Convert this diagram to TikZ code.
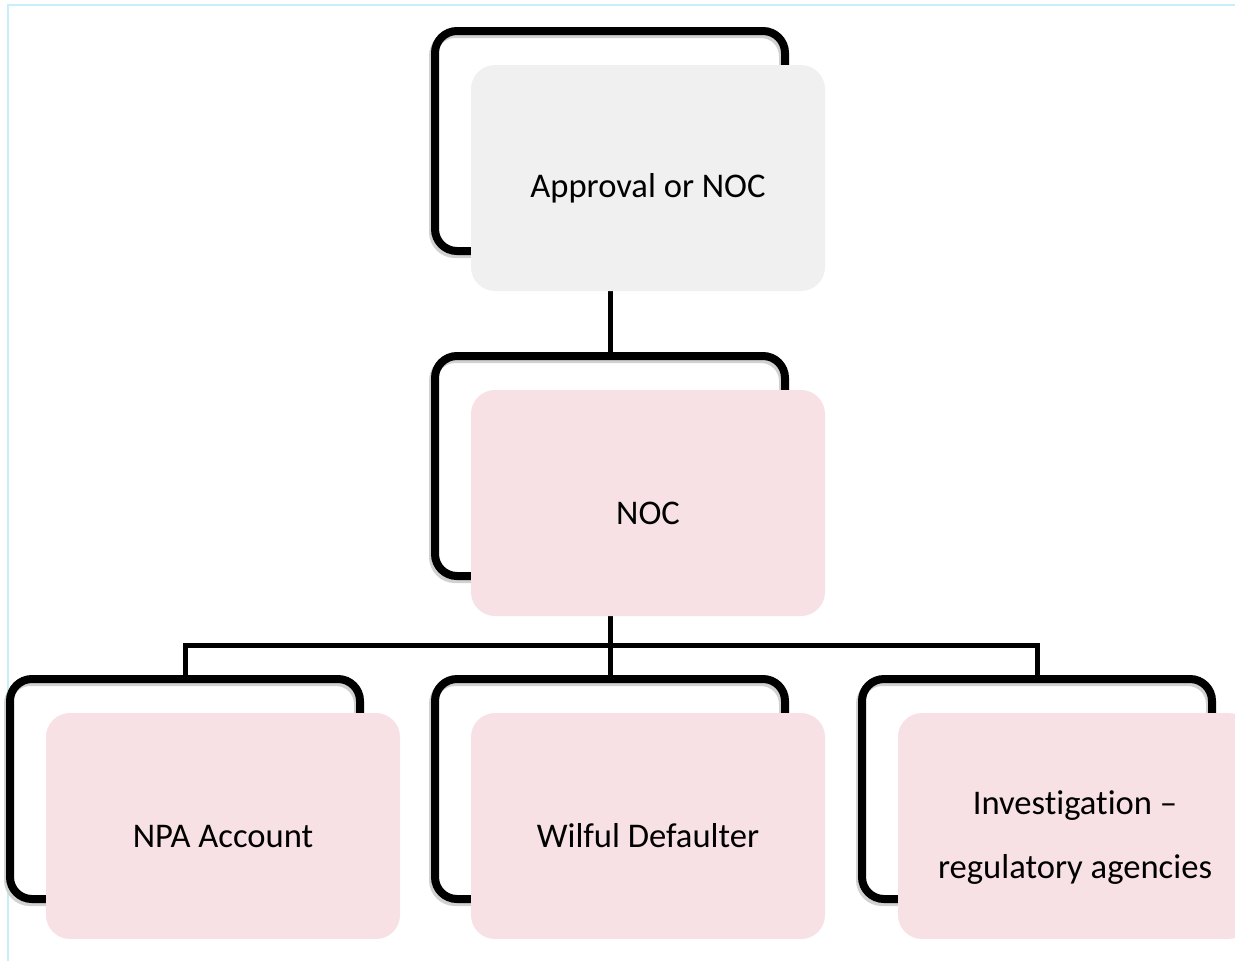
\documentclass[tikz,border=0pt]{standalone}
\usepackage{fontspec}
\setmainfont{Carlito}[Ligatures={TeX,NoCommon}]
\usetikzlibrary{calc}
\definecolor{boxgray}{RGB}{240,240,240}
\definecolor{boxpink}{RGB}{248,225,229}
\definecolor{pagecyan}{RGB}{200,238,250}

\begin{document}
\begin{tikzpicture}[x=0.5pt, y=-0.5pt,
  backframe/.style={draw=black, line width=4pt, rounded corners=11pt,
    minimum width=175pt, minimum height=110pt, outer sep=0pt,
    preaction={draw=black!18, transform canvas={shift={(-1pt,-1.5pt)}}}},
  card/.style={rounded corners=12pt, minimum width=177pt, minimum height=113pt,
    align=center, font=\fontsize{17.3}{32}\selectfont,
    execute at begin node={\rule{0pt}{22pt}}},
  link/.style={black, line width=2.5pt}]
\clip (0,0) rectangle (1235,960);
\draw[pagecyan, line width=1pt] (8,970) -- (8,5) -- (1240,5);

% frames behind the cards
\node[backframe] (fappr) at (610,141) {};
\node[backframe] (fnoc) at (610,466) {};
\foreach \n/\x in {npa/185, wil/610, inv/1037}
  \node[backframe] (f\n) at (\x,789) {};

% links
\draw[link] (fappr.south) -- (fnoc.north);
\draw[link] (fnoc.south) -- (fwil.north);
\draw[link] (fnpa.north) -- ++(0,-34) -| (finv.north);

% cards
\node[card, fill=boxgray] (appr) at ($(fappr)+(38,37)$) {Approval or NOC};
\node[card, fill=boxpink] (noc) at ($(fnoc)+(38,37)$) {NOC};
\node[card, fill=boxpink] (npa) at ($(fnpa)+(38,37)$) {NPA Account};
\node[card, fill=boxpink] (wil) at ($(fwil)+(38,37)$) {Wilful Defaulter};
\node[card, fill=boxpink] (inv) at ($(finv)+(38,37)$)
  {\rule{0pt}{23pt}Investigation --\\regulatory agencies};
\end{tikzpicture}
\end{document}
